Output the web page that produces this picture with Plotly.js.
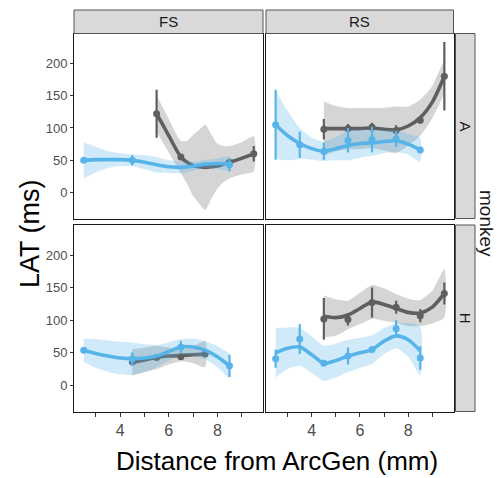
<!DOCTYPE html>
<html><head><meta charset="utf-8">
<script src="https://cdn.plot.ly/plotly-3.0.1.min.js"></script>
<style>html,body{margin:0;padding:0;background:#fff}#chart{width:497px;height:478px}</style>
</head><body><div id="chart"></div>
<script>
// ---- facet labels ----
const colFacets = ['FS', 'RS'];
const rowFacets = ['A', 'H'];
const rowVarLabel = 'monkey';
const xTitle = 'Distance from ArcGen (mm)';
const yTitle = 'LAT (ms)';
const xTickVals = [3, 4, 5, 6, 7, 8, 9];
const xTickText = ['', '4', '', '6', '', '8', ''];
const yTickVals = [0, 50, 100, 150, 200];

// ---- FS / A ----
const fsA_grey_sx  = [5.5, 6, 6.5, 6.75, 7, 7.25, 7.5, 7.75, 8, 8.25, 8.5, 9, 9.5];
const fsA_grey_fit = [122, 88, 55, 47, 42, 40, 39, 40, 41, 44, 47, 53, 60];
const fsA_grey_ci  = [28, 26, 25, 33, 47, 57, 66, 50, 35, 28, 25, 25, 27];
const fsA_grey_px  = [5.5, 6.5, 8.5, 9.5];
const fsA_grey_py  = [122, 55, 47, 60];
const fsA_grey_pe  = [37, 4, 3, 12];

const fsA_blue_sx  = [2.5, 3, 3.5, 4, 4.5, 5, 5.5, 6, 6.5, 7, 7.5, 8, 8.5];
const fsA_blue_fit = [50, 51, 51, 51, 50, 47, 43, 40, 39, 41, 44, 45, 45];
const fsA_blue_ci  = [28, 20, 13, 10, 9, 11, 12, 10, 9, 7, 6, 8, 11];
const fsA_blue_px  = [2.5, 4.5, 8.5];
const fsA_blue_py  = [50, 50, 43];
const fsA_blue_pe  = [2, 8, 10];

// ---- RS / A ----
const rsA_grey_sx  = [4.5, 5, 5.5, 6, 6.5, 7, 7.5, 8, 8.5, 9, 9.5];
const rsA_grey_fit = [99, 99, 99, 99, 100, 98, 97, 103, 116, 140, 180];
const rsA_grey_ci  = [42, 35, 32, 32, 31, 33, 36, 30, 28, 25, 24];
const rsA_grey_px  = [4.5, 5.5, 6.5, 7.5, 8.5, 9.5];
const rsA_grey_py  = [98, 99, 101, 96, 112, 180];
const rsA_grey_pe  = [16, 7, 7, 8, 5, 53];

const rsA_blue_sx  = [2.5, 3, 3.5, 4, 4.5, 5, 5.5, 6, 6.5, 7, 7.5, 8, 8.5];
const rsA_blue_fit = [105, 88, 76, 68, 64, 68, 73, 76, 77, 79, 80, 75, 66];
const rsA_blue_ci  = [53, 38, 24, 17, 15, 18, 23, 22, 20, 18, 17, 16, 18];
const rsA_blue_px  = [2.5, 3.5, 4.5, 5.5, 6.5, 7.5, 8.5];
const rsA_blue_py  = [105, 74, 64, 81, 82, 83, 66];
const rsA_blue_pe  = [54, 20, 13, 19, 20, 12, 3];

// ---- FS / H ----
const fsH_grey_sx  = [4.5, 5, 5.5, 6, 6.5, 7, 7.5];
const fsH_grey_fit = [35, 39, 43, 45, 46, 47, 48];
const fsH_grey_ci  = [20, 19, 18, 13, 9, 13, 20];
const fsH_grey_px  = [4.5, 5.5, 6.5, 7.5];
const fsH_grey_py  = [36, 43, 44, 48];
const fsH_grey_pe  = [2, 2, 4, 2];

const fsH_blue_sx  = [2.5, 3, 3.5, 4, 4.5, 5, 5.5, 6, 6.5, 7, 7.5, 8, 8.5];
const fsH_blue_fit = [54, 49, 45, 42, 41, 42, 45, 52, 59, 59, 54, 44, 30];
const fsH_blue_ci  = [18, 22, 24, 25, 25, 21, 17, 14, 12, 13, 14, 16, 18];
const fsH_blue_px  = [2.5, 4.5, 6.5, 8.5];
const fsH_blue_py  = [54, 41, 59, 30];
const fsH_blue_pe  = [3, 10, 9, 17];

// ---- RS / H ----
const rsH_grey_sx  = [4.5, 5, 5.5, 6, 6.5, 7, 7.5, 8, 8.5, 9, 9.5];
const rsH_grey_fit = [106, 104, 108, 118, 128, 124, 118, 112, 111, 120, 141];
const rsH_grey_ci  = [32, 28, 22, 24, 26, 25, 22, 21, 20, 25, 37];
const rsH_grey_px  = [4.5, 5.5, 6.5, 7.5, 8.5, 9.5];
const rsH_grey_py  = [102, 101, 127, 120, 107, 141];
const rsH_grey_pe  = [32, 9, 23, 10, 10, 17];

const rsH_blue_sx  = [2.5, 3, 3.5, 4, 4.5, 5, 5.5, 6, 6.5, 7, 7.5, 8, 8.5];
const rsH_blue_fit = [50, 57, 59, 47, 34, 38, 45, 50, 55, 68, 76, 70, 53];
const rsH_blue_ci  = [38, 32, 29, 28, 27, 26, 25, 23, 22, 20, 19, 26, 37];
const rsH_blue_px  = [2.5, 3.5, 4.5, 5.5, 6.5, 7.5, 8.5];
const rsH_blue_py  = [41, 71, 34, 45, 55, 87, 42];
const rsH_blue_pe  = [14, 23, 2, 13, 3, 13, 18];

// ---- styling ----
const GREY = '#5f5f5f', GREY_FILL = 'rgba(150,150,150,0.40)';
const BLUE = '#56B4E9', BLUE_FILL = 'rgba(86,180,233,0.28)';
const FONT = 'Liberation Sans, Arial, sans-serif';
const W = 497, H = 478;
const px2x = p => p / W;
const py2y = p => 1 - p / H;

const panelX = [[74, 263], [266, 453.5]];
const panelY = [[33.5, 218.5], [225, 411.5]];

const traces = [];
function addSeries(ax, ay, sx, fit, ci, px, py, pe, col, fillCol) {
  const up = fit.map((v, i) => v + ci[i]);
  const lo = fit.map((v, i) => v - ci[i]);
  traces.push({x: sx.concat(sx.slice().reverse()), y: up.concat(lo.slice().reverse()),
    xaxis: ax, yaxis: ay, type: 'scatter', mode: 'lines', fill: 'toself', fillcolor: fillCol,
    line: {width: 0, color: fillCol, shape: 'spline', smoothing: 0.6}, hoverinfo: 'skip', showlegend: false});
  traces.push({x: px, y: py, xaxis: ax, yaxis: ay, type: 'scatter', mode: 'markers',
    marker: {color: col, size: 7},
    error_y: {type: 'data', array: pe, visible: true, color: col, thickness: 2.2, width: 0},
    showlegend: false});
  traces.push({x: sx, y: fit, xaxis: ax, yaxis: ay, type: 'scatter', mode: 'lines',
    line: {color: col, width: 3.6, shape: 'spline', smoothing: 0.8}, showlegend: false});
}
addSeries('x', 'y', fsA_grey_sx, fsA_grey_fit, fsA_grey_ci, fsA_grey_px, fsA_grey_py, fsA_grey_pe, GREY, GREY_FILL);
addSeries('x', 'y', fsA_blue_sx, fsA_blue_fit, fsA_blue_ci, fsA_blue_px, fsA_blue_py, fsA_blue_pe, BLUE, BLUE_FILL);
addSeries('x2', 'y2', rsA_grey_sx, rsA_grey_fit, rsA_grey_ci, rsA_grey_px, rsA_grey_py, rsA_grey_pe, GREY, GREY_FILL);
addSeries('x2', 'y2', rsA_blue_sx, rsA_blue_fit, rsA_blue_ci, rsA_blue_px, rsA_blue_py, rsA_blue_pe, BLUE, BLUE_FILL);
addSeries('x3', 'y3', fsH_grey_sx, fsH_grey_fit, fsH_grey_ci, fsH_grey_px, fsH_grey_py, fsH_grey_pe, GREY, GREY_FILL);
addSeries('x3', 'y3', fsH_blue_sx, fsH_blue_fit, fsH_blue_ci, fsH_blue_px, fsH_blue_py, fsH_blue_pe, BLUE, BLUE_FILL);
addSeries('x4', 'y4', rsH_grey_sx, rsH_grey_fit, rsH_grey_ci, rsH_grey_px, rsH_grey_py, rsH_grey_pe, GREY, GREY_FILL);
addSeries('x4', 'y4', rsH_blue_sx, rsH_blue_fit, rsH_blue_ci, rsH_blue_px, rsH_blue_py, rsH_blue_pe, BLUE, BLUE_FILL);

function xa(col, anchor, labels) {
  return {domain: [px2x(panelX[col][0]), px2x(panelX[col][1])], anchor: anchor, range: [2.1, 9.88],
    showgrid: false, zeroline: false, showline: true, mirror: true, linecolor: '#1a1a1a', linewidth: 1,
    tickmode: 'array', tickvals: xTickVals, ticktext: xTickText, ticks: labels ? 'outside' : '',
    ticklen: 4, tickwidth: 1, tickcolor: '#333', showticklabels: labels,
    tickfont: {family: FONT, size: 16, color: '#4d4d4d'}, fixedrange: true};
}
function ya(row, anchor, labels) {
  return {domain: [py2y(panelY[row][1]), py2y(panelY[row][0])], anchor: anchor, range: [-40, 246],
    showgrid: false, zeroline: false, showline: true, mirror: true, linecolor: '#1a1a1a', linewidth: 1,
    tickmode: 'array', tickvals: yTickVals, ticks: labels ? 'outside' : '',
    ticklen: 3, tickwidth: 1, tickcolor: '#333', showticklabels: labels,
    tickfont: {family: FONT, size: 13, color: '#4d4d4d'}, fixedrange: true};
}

const shapes = [], annotations = [];
const STRIP_FILL = '#d9d9d9', STRIP_LINE = '#555555';
colFacets.forEach((lab, c) => {
  shapes.push({type: 'rect', xref: 'paper', yref: 'paper',
    x0: px2x(panelX[c][0]), x1: px2x(panelX[c][1]), y0: py2y(33.5), y1: py2y(10),
    fillcolor: STRIP_FILL, line: {color: STRIP_LINE, width: 1}});
  annotations.push({text: lab, xref: 'paper', yref: 'paper', showarrow: false,
    x: px2x((panelX[c][0] + panelX[c][1]) / 2), y: py2y(21.8), xanchor: 'center', yanchor: 'middle',
    font: {family: FONT, size: 15, color: '#1a1a1a'}});
});
rowFacets.forEach((lab, r) => {
  shapes.push({type: 'rect', xref: 'paper', yref: 'paper',
    x0: px2x(455.5), x1: px2x(475), y0: py2y(panelY[r][1]), y1: py2y(panelY[r][0]),
    fillcolor: STRIP_FILL, line: {color: STRIP_LINE, width: 1}});
  annotations.push({text: lab, xref: 'paper', yref: 'paper', showarrow: false, textangle: 90,
    x: px2x(465.5), y: py2y((panelY[r][0] + panelY[r][1]) / 2), xanchor: 'center', yanchor: 'middle',
    font: {family: FONT, size: 15, color: '#1a1a1a'}});
});
annotations.push({text: rowVarLabel, xref: 'paper', yref: 'paper', showarrow: false, textangle: 90,
  x: px2x(487), y: py2y(223), xanchor: 'center', yanchor: 'middle',
  font: {family: FONT, size: 19, color: '#1a1a1a'}});
annotations.push({text: yTitle, xref: 'paper', yref: 'paper', showarrow: false, textangle: -90,
  x: px2x(30), y: py2y(234), xanchor: 'center', yanchor: 'middle',
  font: {family: FONT, size: 27, color: '#000'}});
annotations.push({text: xTitle, xref: 'paper', yref: 'paper', showarrow: false,
  x: px2x(277), y: py2y(461), xanchor: 'center', yanchor: 'middle',
  font: {family: FONT, size: 26, color: '#000'}});

const layout = {
  width: W, height: H, margin: {l: 0, r: 0, t: 0, b: 0},
  paper_bgcolor: '#fff', plot_bgcolor: '#fff', showlegend: false,
  font: {family: FONT},
  xaxis: xa(0, 'y', false), yaxis: ya(0, 'x', true),
  xaxis2: xa(1, 'y2', false), yaxis2: ya(0, 'x2', false),
  xaxis3: xa(0, 'y3', true), yaxis3: ya(1, 'x3', true),
  xaxis4: xa(1, 'y4', true), yaxis4: ya(1, 'x4', false),
  shapes: shapes, annotations: annotations
};
Plotly.newPlot('chart', traces, layout, {staticPlot: true, displayModeBar: false});
</script></body></html>
